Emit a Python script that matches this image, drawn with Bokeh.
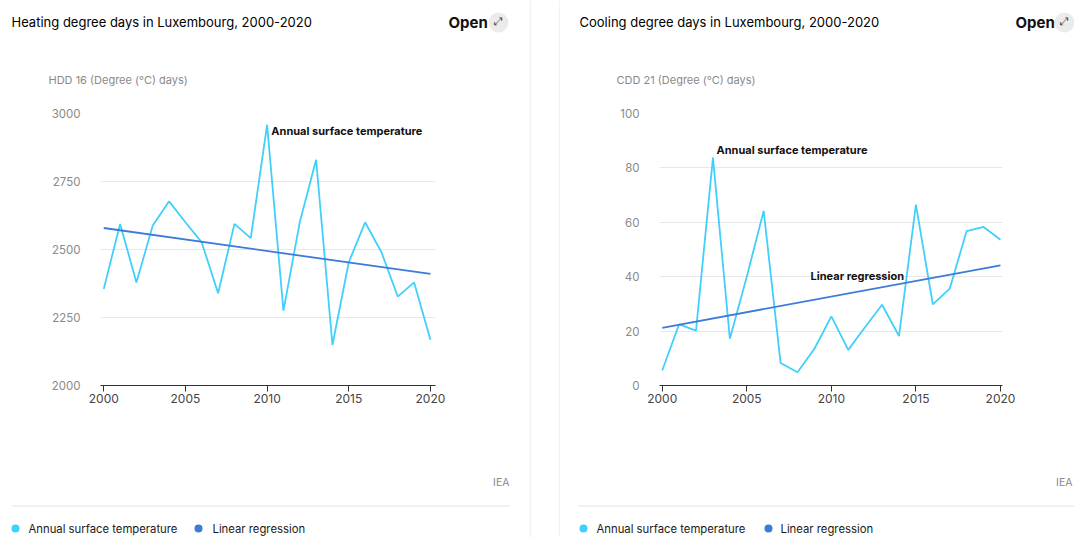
from bokeh.plotting import figure
from bokeh.models import Label, FixedTicker, Range1d
from bokeh.layouts import row, column
from bokeh.embed import file_html
from bokeh.resources import INLINE

# ---------------- data ----------------
years = list(range(2000, 2021))
hdd = [2355, 2594, 2379, 2588, 2677, 2600, 2526, 2339, 2594, 2542, 2958,
       2275, 2600, 2830, 2149, 2453, 2600, 2490, 2327, 2379, 2168]
cdd = [5.5, 22.5, 20.2, 83.8, 17.2, 40.0, 64.2, 8.3, 4.9, 13.5, 25.4,
       13.1, 21.5, 29.7, 18.2, 66.5, 29.8, 35.6, 56.8, 58.3, 53.6]
reg_years = [2000, 2020]
hdd_reg = [2579, 2410]
cdd_reg = [21.2, 44.2]
hdd_ticks = [2000, 2250, 2500, 2750, 3000]
cdd_ticks = [0, 20, 40, 60, 80, 100]
year_ticks = [2000, 2005, 2010, 2015, 2020]
series_names = ["Annual surface temperature", "Linear regression"]

LIGHT = "#41CFFC"
DARK = "#3D7BD9"
SEP = "#e4e4e4"
FONT = "Inter"


def blank(w, h):
    """A figure whose frame is the whole canvas, data units = pixels (y down)."""
    p = figure(width=w, height=h, x_range=Range1d(0, w), y_range=Range1d(h, 0),
               x_axis_type=None, y_axis_type=None, output_backend="svg",
               toolbar_location=None, min_border=0)
    p.outline_line_color = None
    p.grid.visible = False
    p.background_fill_color = "white"
    p.border_fill_color = "white"
    return p


def txt(p, x, y, text, size, color, bold=False, align="left", font=FONT):
    p.add_layout(Label(x=x, y=y, text=text, text_font=font, text_font_size=size,
                       text_color=color,
                       text_font_style="bold" if bold else "normal",
                       text_align=align, text_baseline="middle"))


def chart(W, H, xr, yr, mbl, mbr, mbt, mbb, yticks):
    p = figure(width=W, height=H, x_range=Range1d(*xr), y_range=Range1d(*yr),
               output_backend="svg", toolbar_location=None,
               min_border_left=mbl, min_border_right=mbr,
               min_border_top=mbt, min_border_bottom=mbb)
    p.outline_line_color = None
    p.background_fill_color = "white"
    p.border_fill_color = "white"
    p.xaxis.ticker = FixedTicker(ticks=year_ticks)
    p.xaxis.axis_line_color = "#333333"
    p.xaxis.major_tick_line_color = "#333333"
    p.xaxis.major_tick_out = 6
    p.xaxis.major_tick_in = 0
    p.xaxis.minor_tick_line_color = None
    p.xaxis.major_label_text_font = FONT
    p.xaxis.major_label_text_font_size = "12px"
    p.xaxis.major_label_text_color = "#444444"
    p.xaxis.major_label_standoff = 2
    p.yaxis.ticker = FixedTicker(ticks=yticks)
    p.yaxis.axis_line_color = None
    p.yaxis.major_tick_line_color = None
    p.yaxis.minor_tick_line_color = None
    p.yaxis.major_label_standoff = 14
    p.yaxis.major_label_text_font = FONT
    p.yaxis.major_label_text_font_size = "11.5px"
    p.yaxis.major_label_text_color = "#8a8a8a"
    p.xgrid.grid_line_color = None
    p.ygrid.ticker = FixedTicker(ticks=yticks)
    p.ygrid.grid_line_color = "#e8e8e8"
    return p


def header(w, title, tx, ox, ix, unit, ux):
    p = blank(w, 105)
    txt(p, tx, 21, title, "13px", "#000000")
    txt(p, ox, 22, "Open", "15px", "#111111", bold=True)
    p.scatter([ix], [22], size=20, color="#ebebeb", line_color=None)
    txt(p, ix, 21, "\u2922", "11px", "#444444", align="center", font="DejaVu Sans")
    txt(p, ux, 79, unit, "11px", "#8a8a8a")
    return p


def footer(w, sep_x0, iea_x, dots_x, labels_x):
    p = blank(w, 97)
    txt(p, iea_x, 42, "IEA", "10.5px", "#8a8a8a", align="right")
    p.line([sep_x0, min(w, sep_x0 + 498)], [65.5, 65.5], line_color=SEP, line_width=1)
    p.scatter(dots_x, [88, 88], size=8, color=[LIGHT, DARK], line_color=None)
    for lx, name in zip(labels_x, series_names):
        txt(p, lx, 88, name, "11.3px", "#1a1a1a")
    return p


# ---------------- left panel: heating ----------------
WL = 529
hL = header(WL, "Heating degree days in Luxembourg, 2000-2020", 11, 448, 498,
            "HDD 16 (Degree (\u00B0C) days)", 48)
p1 = chart(WL, 335, (1999.80, 2020.31), (2000, 3000), 100, 94, 8, 55, hdd_ticks)
p1.line(years, hdd, line_color=LIGHT, line_width=1.8)
p1.line(reg_years, hdd_reg, line_color=DARK, line_width=1.8)
p1.add_layout(Label(x=2010.26, y=2934, text=series_names[0],
                    text_font=FONT, text_font_size="11px", text_font_style="bold",
                    text_color="#111111", text_baseline="middle"))
fL = footer(WL, 11, 509, [15, 198], [28, 212])

# ---------------- gap with separators ----------------
gap = blank(31, 537)
gap.line([0.5, 0.5], [0, 537], line_color=SEP, line_width=1)
gap.line([30.5, 30.5], [0, 537], line_color=SEP, line_width=1)

# ---------------- right panel: cooling ----------------
WR = 514
hR = header(WR, "Cooling degree days in Luxembourg, 2000-2020", 19, 455, 504,
            "CDD 21 (Degree (\u00B0C) days)", 56)
p2 = chart(WR, 335, (1999.84, 2020.12), (0, 100), 99, 72, 8, 55, cdd_ticks)
p2.line(years, cdd, line_color=LIGHT, line_width=1.8)
p2.line(reg_years, cdd_reg, line_color=DARK, line_width=1.8)
p2.add_layout(Label(x=2003.21, y=86.5, text=series_names[0],
                    text_font=FONT, text_font_size="11px", text_font_style="bold",
                    text_color="#111111", text_baseline="middle"))
p2.add_layout(Label(x=2008.77, y=40.1, text=series_names[1],
                    text_font=FONT, text_font_size="11px", text_font_style="bold",
                    text_color="#111111", text_baseline="middle"))
fR = footer(WR, 18, 512, [23, 208], [36, 220])

layout = row(column(row(hL), row(p1), row(fL), spacing=0), gap,
             column(row(hR), row(p2), row(fR), spacing=0), spacing=0)
open("out.html", "w").write(file_html(layout, INLINE))
